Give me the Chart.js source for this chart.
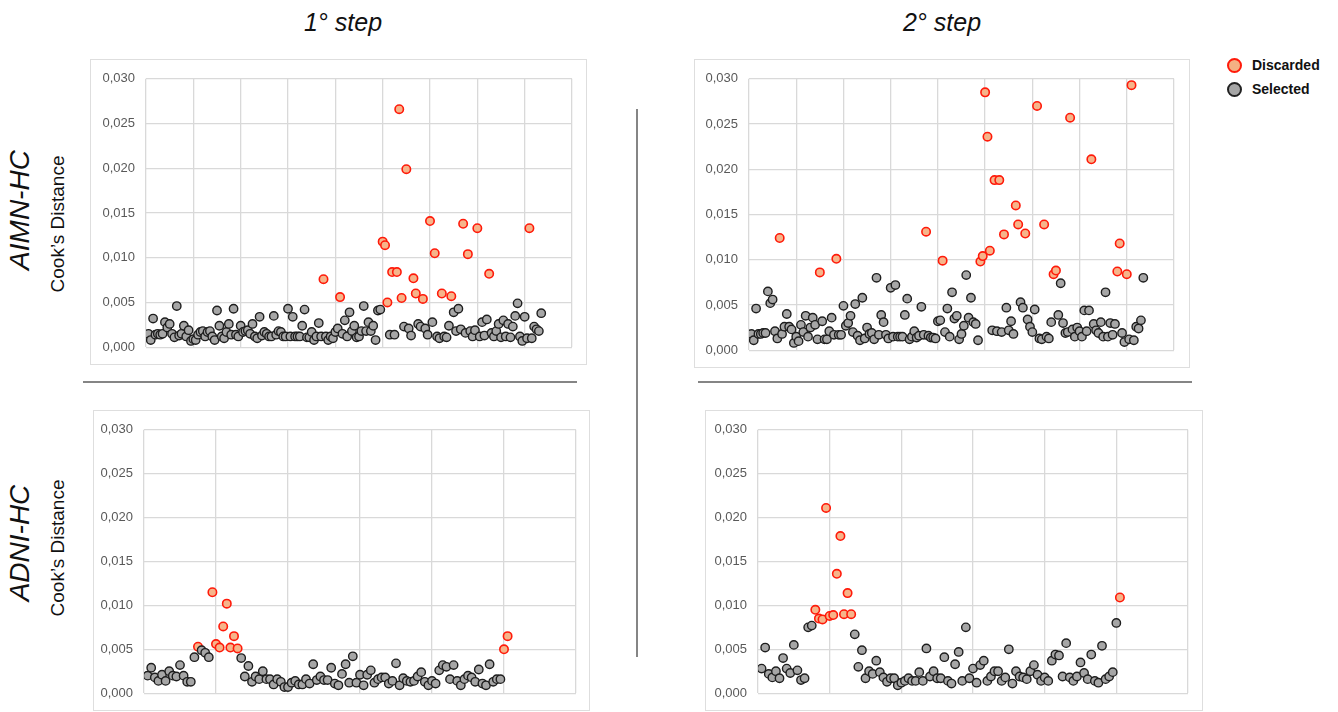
<!DOCTYPE html>
<html>
<head>
<meta charset="utf-8">
<script src="https://cdn.jsdelivr.net/npm/chart.js@4.4.1/dist/chart.umd.min.js"></script>
<style>
  body { margin: 0; width: 1338px; height: 712px; background: #fff; position: relative; overflow: hidden; font-family: "Liberation Sans", Arial, sans-serif; }
  .frame { position: absolute; border: 1.5px solid #dedede; box-sizing: border-box; }
  .frame canvas { position: absolute; left: 0; top: 0; }
  .lbl { position: absolute; white-space: nowrap; transform: translate(-50%, -50%); color: #111; }
  .rot { transform: translate(-50%, -50%) rotate(-90deg); }
  .rule { position: absolute; background: #858585; }
  .leg { position: absolute; font-weight: bold; font-size: 14px; color: #111; }
  .leg span { position: absolute; width: 11px; height: 11px; border-radius: 50%; left: -25px; top: 1px; border: 2px solid; }
</style>
</head>
<body>

<div class="lbl" style="left:343px; top:22px; font-size:25px; font-style:italic;">1° step</div>
<div class="lbl" style="left:942px; top:22px; font-size:25px; font-style:italic;">2° step</div>

<div class="lbl rot" style="left:20px; top:210px; font-size:28px; font-style:italic;">AIMN-HC</div>
<div class="lbl rot" style="left:58px; top:224px; font-size:19px;">Cook’s Distance</div>
<div class="lbl rot" style="left:20px; top:543px; font-size:28px; font-style:italic;">ADNI-HC</div>
<div class="lbl rot" style="left:58px; top:548px; font-size:19px;">Cook’s Distance</div>

<div class="leg" style="left:1252px; top:57px;"><span style="background:#f4b183; border-color:#ff1a0a;"></span>Discarded</div>
<div class="leg" style="left:1252px; top:81px;"><span style="background:#a6a6a6; border-color:#222;"></span>Selected</div>

<div class="rule" style="left:83px; top:381px; width:494px; height:2px;"></div>
<div class="rule" style="left:698px; top:381px; width:494px; height:2px;"></div>
<div class="rule" style="left:636px; top:109px; width:2px; height:548px;"></div>

<div class="frame" style="left:90px; top:59px; width:497px; height:306px;"><canvas id="c1" width="497" height="306"></canvas></div>
<div class="frame" style="left:694px; top:59px; width:496px; height:309px;"><canvas id="c2" width="496" height="309"></canvas></div>
<div class="frame" style="left:93px; top:410px; width:497px; height:301px;"><canvas id="c3" width="497" height="301"></canvas></div>
<div class="frame" style="left:705px; top:410px; width:498px; height:301px;"><canvas id="c4" width="498" height="301"></canvas></div>

<script>
// Cook's distance per subject, read in order along the x axis
const aimnStep1 = [
  0.0015, 0.0008, 0.0032, 0.0014, 0.0015, 0.0014, 0.0015, 0.0028, 0.0022, 0.0026,
  0.0015, 0.0011, 0.0046, 0.0013, 0.0015, 0.0024, 0.0012, 0.0019, 0.0007, 0.0009,
  0.0008, 0.0014, 0.0017, 0.0018, 0.0012, 0.0017, 0.0018, 0.0012, 0.0008, 0.0041,
  0.0024, 0.0012, 0.0010, 0.0017, 0.0026, 0.0014, 0.0043, 0.0014, 0.0012, 0.0024,
  0.0017, 0.0018, 0.0019, 0.0015, 0.0026, 0.0012, 0.0010, 0.0034, 0.0013, 0.0017,
  0.0015, 0.0012, 0.0012, 0.0035, 0.0014, 0.0018, 0.0017, 0.0012, 0.0012, 0.0043,
  0.0012, 0.0034, 0.0012, 0.0012, 0.0012, 0.0024, 0.0042, 0.0011, 0.0011, 0.0017,
  0.0008, 0.0012, 0.0027, 0.0012, 0.0076, 0.0012, 0.0008, 0.0012, 0.0010, 0.0017,
  0.0021, 0.0056, 0.0015, 0.0030, 0.0012, 0.0039, 0.0018, 0.0024, 0.0011, 0.0012,
  0.0018, 0.0046, 0.0018, 0.0028, 0.0018, 0.0024, 0.0008, 0.0041, 0.0042, 0.0118,
  0.0114, 0.0050, 0.0014, 0.0084, 0.0014, 0.0084, 0.0266, 0.0055, 0.0023, 0.0199,
  0.0021, 0.0013, 0.0077, 0.0060, 0.0026, 0.0023, 0.0054, 0.0021, 0.0014, 0.0141,
  0.0028, 0.0105, 0.0012, 0.0010, 0.0060, 0.0012, 0.0011, 0.0024, 0.0057, 0.0039,
  0.0018, 0.0043, 0.0020, 0.0138, 0.0016, 0.0104, 0.0018, 0.0012, 0.0019, 0.0133,
  0.0012, 0.0028, 0.0013, 0.0031, 0.0082, 0.0016, 0.0012, 0.0018, 0.0026, 0.0011,
  0.0030, 0.0012, 0.0026, 0.0011, 0.0023, 0.0035, 0.0049, 0.0012, 0.0007, 0.0034,
  0.0010, 0.0133, 0.0010, 0.0023, 0.0020, 0.0018, 0.0038
];
const aimnStep1Discarded = [75, 82, 100, 101, 102, 104, 106, 107, 108, 110, 113, 114, 117, 120, 122, 125, 129, 134, 136, 140, 145, 162];

const aimnStep2 = [
  0.0018, 0.0011, 0.0046, 0.0018, 0.0018, 0.0019, 0.0019, 0.0065, 0.0052, 0.0056,
  0.0021, 0.0013, 0.0124, 0.0018, 0.0026, 0.0040, 0.0026, 0.0023, 0.0008, 0.0015,
  0.0010, 0.0028, 0.0020, 0.0038, 0.0015, 0.0025, 0.0036, 0.0028, 0.0012, 0.0086,
  0.0032, 0.0012, 0.0012, 0.0021, 0.0036, 0.0017, 0.0101, 0.0017, 0.0017, 0.0049,
  0.0027, 0.0030, 0.0038, 0.0020, 0.0051, 0.0016, 0.0011, 0.0058, 0.0013, 0.0025,
  0.0018, 0.0019, 0.0012, 0.0080, 0.0017, 0.0039, 0.0031, 0.0017, 0.0013, 0.0069,
  0.0015, 0.0072, 0.0015, 0.0015, 0.0015, 0.0039, 0.0057, 0.0012, 0.0015, 0.0021,
  0.0014, 0.0016, 0.0048, 0.0017, 0.0131, 0.0016, 0.0014, 0.0014, 0.0013, 0.0032,
  0.0033, 0.0099, 0.0020, 0.0046, 0.0015, 0.0064, 0.0035, 0.0038, 0.0012, 0.0018,
  0.0027, 0.0083, 0.0036, 0.0058, 0.0031, 0.0029, 0.0011, 0.0098, 0.0104, 0.0285,
  0.0236, 0.0110, 0.0022, 0.0188, 0.0021, 0.0188, 0.0020, 0.0128, 0.0047, 0.0022,
  0.0032, 0.0018, 0.0160, 0.0139, 0.0053, 0.0047, 0.0129, 0.0034, 0.0026, 0.0020,
  0.0045, 0.0270, 0.0013, 0.0012, 0.0139, 0.0015, 0.0013, 0.0031, 0.0084, 0.0088,
  0.0039, 0.0074, 0.0030, 0.0019, 0.0020, 0.0257, 0.0023, 0.0015, 0.0025, 0.0021,
  0.0015, 0.0044, 0.0021, 0.0044, 0.0211, 0.0029, 0.0022, 0.0019, 0.0031, 0.0015,
  0.0064, 0.0015, 0.0030, 0.0017, 0.0029, 0.0087, 0.0118, 0.0019, 0.0009, 0.0084,
  0.0012, 0.0293, 0.0011, 0.0026, 0.0024, 0.0033, 0.0080
];
const aimnStep2Discarded = [13, 30, 37, 75, 82, 98, 99, 100, 101, 102, 104, 106, 108, 113, 114, 117, 122, 125, 129, 130, 136, 145, 156, 157, 160, 162];

const adniStep1 = [
  0.0020, 0.0029, 0.0018, 0.0014, 0.0021, 0.0014, 0.0025, 0.0020, 0.0019, 0.0032,
  0.0020, 0.0013, 0.0013, 0.0041, 0.0053, 0.0049, 0.0046, 0.0041, 0.0115, 0.0056,
  0.0052, 0.0076, 0.0102, 0.0052, 0.0065, 0.0051, 0.0040, 0.0019, 0.0031, 0.0013,
  0.0019, 0.0016, 0.0025, 0.0016, 0.0016, 0.0010, 0.0016, 0.0013, 0.0007, 0.0007,
  0.0012, 0.0014, 0.0010, 0.0010, 0.0016, 0.0011, 0.0033, 0.0015, 0.0019, 0.0015,
  0.0015, 0.0029, 0.0011, 0.0009, 0.0022, 0.0033, 0.0012, 0.0042, 0.0012, 0.0021,
  0.0009, 0.0021, 0.0026, 0.0012, 0.0016, 0.0018, 0.0018, 0.0011, 0.0014, 0.0034,
  0.0009, 0.0017, 0.0014, 0.0013, 0.0014, 0.0019, 0.0024, 0.0013, 0.0009, 0.0014,
  0.0011, 0.0026, 0.0032, 0.0030, 0.0016, 0.0032, 0.0014, 0.0009, 0.0016, 0.0020,
  0.0018, 0.0013, 0.0027, 0.0011, 0.0009, 0.0033, 0.0013, 0.0016, 0.0016, 0.0050,
  0.0065
];
const adniStep1Discarded = [15, 19, 20, 21, 22, 23, 24, 25, 26, 100, 101];

const adniStep2 = [
  0.0028, 0.0052, 0.0022, 0.0018, 0.0025, 0.0017, 0.0040, 0.0028, 0.0023, 0.0055,
  0.0026, 0.0015, 0.0017, 0.0075, 0.0077, 0.0095, 0.0085, 0.0084, 0.0211, 0.0088,
  0.0089, 0.0136, 0.0179, 0.0090, 0.0114, 0.0090, 0.0067, 0.0030, 0.0049, 0.0017,
  0.0025, 0.0022, 0.0037, 0.0024, 0.0018, 0.0013, 0.0017, 0.0017, 0.0009, 0.0012,
  0.0014, 0.0017, 0.0014, 0.0014, 0.0024, 0.0014, 0.0051, 0.0019, 0.0025, 0.0017,
  0.0017, 0.0041, 0.0014, 0.0011, 0.0033, 0.0047, 0.0014, 0.0075, 0.0017, 0.0028,
  0.0012, 0.0032, 0.0037, 0.0014, 0.0019, 0.0025, 0.0025, 0.0014, 0.0018, 0.0050,
  0.0011, 0.0025, 0.0019, 0.0018, 0.0016, 0.0025, 0.0032, 0.0021, 0.0014, 0.0018,
  0.0014, 0.0037, 0.0044, 0.0043, 0.0019, 0.0057, 0.0018, 0.0014, 0.0019, 0.0035,
  0.0023, 0.0016, 0.0044, 0.0014, 0.0012, 0.0054, 0.0016, 0.0019, 0.0024, 0.0080,
  0.0109
];
const adniStep2Discarded = [16, 17, 18, 19, 20, 21, 22, 23, 24, 25, 26, 101];

const yTicks = [0, 0.005, 0.010, 0.015, 0.020, 0.025, 0.030];

Chart.defaults.font.family = '"Liberation Sans", Arial, sans-serif';

// split a series into selected / discarded points (x = subject number)
function puntos(values, discarded, keep) {
  return values
    .map((v, i) => ({ x: i + 1, y: v }))
    .filter(p => discarded.includes(p.x) === keep);
}

function crearPanel(id, values, discarded, xMax, pad, yWidth) {
  const ctx = document.getElementById(id).getContext('2d');
  return new Chart(ctx, {
    type: 'scatter',
    data: {
      datasets: [
        {
          label: 'Selected',
          data: puntos(values, discarded, false),
          backgroundColor: '#a6a6a6',
          borderColor: '#1e1e1e',
          borderWidth: 1.4,
          pointRadius: 4.2,
          pointHoverRadius: 4.2
        },
        {
          label: 'Discarded',
          data: puntos(values, discarded, true),
          backgroundColor: '#f6b48a',
          borderColor: '#ff1a0a',
          borderWidth: 1.6,
          pointRadius: 4.2,
          pointHoverRadius: 4.2
        }
      ]
    },
    options: {
      responsive: false,
      animation: false,
      layout: { padding: { top: pad[0], right: pad[1], bottom: pad[2], left: 0 } },
      plugins: { legend: { display: false }, tooltip: { enabled: false } },
      scales: {
        x: {
          type: 'linear',
          min: 0,
          max: xMax,
          ticks: { display: false, stepSize: 20 },
          grid: { color: '#d9d9d9', lineWidth: 1.3, drawTicks: false },
          border: { display: false },
          afterFit: s => { s.height = 0; }
        },
        y: {
          min: 0,
          max: 0.03,
          afterBuildTicks: s => { s.ticks = yTicks.map(v => ({ value: v })); },
          ticks: {
            padding: 11,
            color: '#595959',
            font: { size: 13 },
            callback: v => v.toFixed(3).replace('.', ',')
          },
          grid: { color: '#d9d9d9', lineWidth: 1.3, drawTicks: false },
          border: { display: false },
          afterFit: s => { s.width = yWidth; }
        }
      }
    }
  });
}

crearPanel('c1', aimnStep1, aimnStep1Discarded, 180, [17, 16, 16], 55);
crearPanel('c2', aimnStep2, aimnStep2Discarded, 180, [17, 17, 16], 54);
crearPanel('c3', adniStep1, adniStep1Discarded, 120, [15, 15, 16], 50);
crearPanel('c4', adniStep2, adniStep2Discarded, 120, [15, 16, 15], 52);
</script>
</body>
</html>
